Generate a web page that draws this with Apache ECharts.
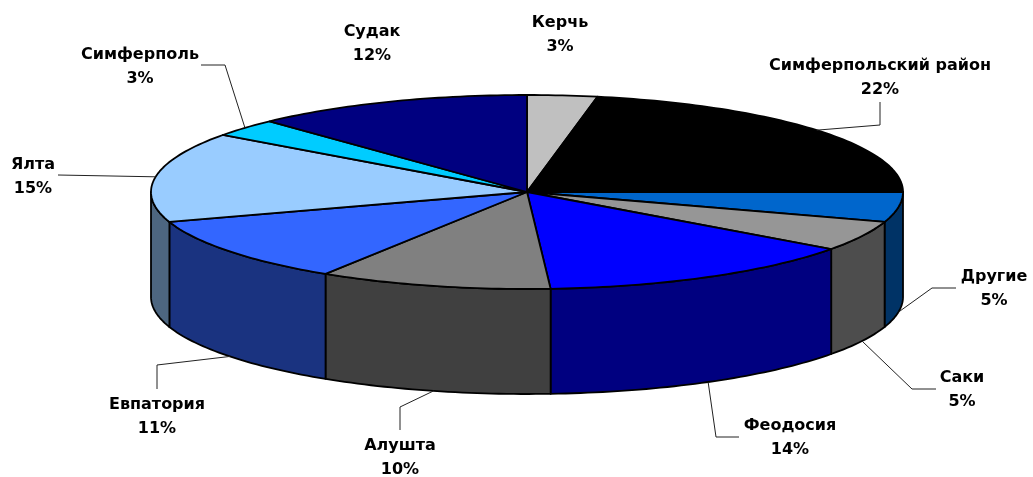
<!DOCTYPE html>
<html>
<head>
<meta charset="utf-8">
<style>html,body{margin:0;padding:0;background:#fff}#c{width:1033px;height:477px}</style>
<script src="https://cdn.jsdelivr.net/npm/echarts@6/dist/echarts.min.js"></script>
</head>
<body>
<div id="c"></div>
<script>
const categories = ['Керчь','Симферпольский район','Другие','Саки','Феодосия','Алушта','Евпатория','Ялта','Симферполь','Судак'];
const values = [3,22,5,5,14,10,11,15,3,12];
const topColors = ['#C0C0C0','#000000','#0066CC','#969696','#0000FF','#808080','#3366FF','#99CCFF','#00CCFF','#000080'];
const sideColors = ['#606060','#000000','#003366','#4D4D4D','#000080','#404040','#1A3380','#4D6680','#006680','#000040'];

// Layout of the pie and its labels (not data)
const CX = 527, CY = 192, RX = 376, RY = 97, DEPTH = 105;
const labelCenters = [[560,35],[880,78],[994,289],[962,390],[790,438],[400,458],[157,417],[33,177],[140,67],[372,44]];
const leaderElbows = [
  [], [[880,102],[880,125]], [[956,288],[932,288]], [[936,389],[912,389]], [[739,437],[716,437]],
  [[400,430],[400,407]], [[157,389],[157,365]], [[58,175]], [[201,65],[225,65]], []
];

const total = values.reduce((a,b)=>a+b,0);
const starts = []; let run = 0;
values.forEach(v=>{ starts.push(run); run += v; });
const ang = p => p/total*2*Math.PI;
const pt = (a,dy) => [CX+RX*Math.sin(a), CY-RY*Math.cos(a)+(dy||0)];
function arc(a,b,dy){
  const n = Math.max(2,Math.ceil(Math.abs(b-a)/0.02)), out=[];
  for(let i=0;i<=n;i++) out.push(pt(a+(b-a)*i/n,dy));
  return out;
}
const idx = categories.map((_,i)=>i);
const lineStyle = {stroke:'#000',lineWidth:1.8,lineJoin:'round'};

const option = {
  animation:false,
  backgroundColor:'#fff',
  series:[
    { type:'custom', coordinateSystem:'none', silent:true, z:1, data:idx,
      renderItem(params,api){
        const i=api.value(0);
        const a=Math.max(ang(starts[i]),Math.PI/2), b=Math.min(ang(starts[i]+values[i]),Math.PI*1.5);
        if(b<=a) return {type:'group',children:[]};
        const pts=arc(a,b,0).concat(arc(b,a,DEPTH));
        return {type:'polygon',shape:{points:pts},style:Object.assign({fill:sideColors[i]},lineStyle)};
      }},
    { type:'custom', coordinateSystem:'none', silent:true, z:2, data:idx,
      renderItem(params,api){
        const i=api.value(0);
        const pts=[[CX,CY]].concat(arc(ang(starts[i]),ang(starts[i]+values[i]),0));
        return {type:'polygon',shape:{points:pts},style:Object.assign({fill:topColors[i]},lineStyle)};
      }},
    { type:'custom', coordinateSystem:'none', silent:true, z:3, data:idx,
      renderItem(params,api){
        const i=api.value(0), children=[];
        if(leaderElbows[i].length){
          const m=ang(starts[i]+values[i]/2);
          const front=Math.cos(m)<0;
          const anchor=pt(m,front?DEPTH:0);
          children.push({type:'polyline',shape:{points:leaderElbows[i].concat([anchor])},
            style:{stroke:'#222',lineWidth:1,fill:null}});
        }
        children.push({type:'text',x:labelCenters[i][0],y:labelCenters[i][1],
          style:{text:categories[i]+'\n'+values[i]+'%',align:'center',verticalAlign:'middle',
            font:'bold 16px "DejaVu Sans"',lineHeight:23.5,fill:'#000'}});
        return {type:'group',children};
      }}
  ]
};
echarts.init(document.getElementById('c'),null,{renderer:'canvas'}).setOption(option);
</script>
</body>
</html>
